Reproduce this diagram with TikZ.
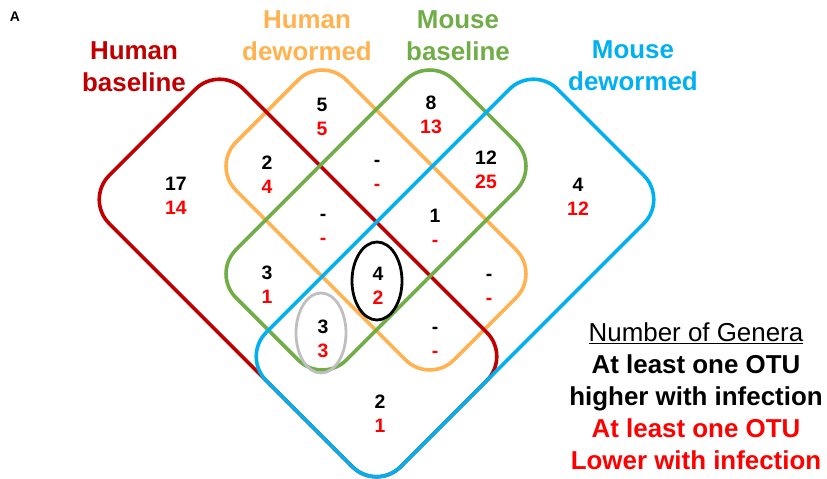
\documentclass[tikz,border=0pt]{standalone}
\usepackage{fontspec}
\setmainfont{Liberation Sans}
\usepackage{tikz}
\usetikzlibrary{shapes.geometric}

\definecolor{hbase}{HTML}{C00000}
\definecolor{hdew}{HTML}{FFB24F}
\definecolor{mbase}{HTML}{70AD47}
\definecolor{mdew}{HTML}{00B0F0}
\definecolor{numred}{HTML}{FF0000}
\definecolor{ringgray}{HTML}{BFBFBF}

\newcommand{\genera}[2]{#1\vphantom{0}\\\textcolor{numred}{#2\vphantom{0}}}

\begin{document}
\begin{tikzpicture}[x=1bp,y=-1bp,
  venn/.style={draw,line width=3.6bp,rounded corners=34bp,rotate=45,inner sep=0pt},
  lab/.style={align=center,font=\fontsize{26}{32}\selectfont\bfseries},
  cnt/.style={align=center,font=\fontsize{19.5}{24}\selectfont\bfseries},
  ring/.style={draw,ellipse,line width=2.8bp,inner sep=0pt,minimum width=50bp}]
\useasboundingbox (0,0) rectangle (827,479);
%\draw[help lines,step=50] (0,0) grid (827,479);

% the four sets
\node[venn,hdew,minimum width=156bp,minimum height=308bp] (hd) at (376,220) {};
\node[venn,hbase,minimum width=190bp,minimum height=412bp] (hb) at (298,278) {};
\node[venn,mbase,minimum width=308bp,minimum height=156bp] (mb) at (376,220) {};
\node[venn,mdew,minimum width=412bp,minimum height=190bp] (md) at (455,278) {};

\node[ring,black,minimum height=78bp] (all4) at (377,281) {};
\node[ring,ringgray,minimum height=80bp] (hbmbmd) at (321,333) {};

% set names
\node[font=\fontsize{14}{16}\selectfont\bfseries] (panel) at (15,17) {A};
\node[lab,hbase] (hbname) at (134,67) {Human\\baseline};
\node[lab,hdew] (hdname) at (307,36) {Human\\dewormed};
\node[lab,mbase] (mbname) at (458,36) {Mouse\\baseline};
\node[lab,mdew] (mdname) at (633,66) {Mouse\\dewormed};

% counts
\node[cnt] (c1) at (176,196) {\genera{17}{14}};
\node[cnt] (c2) at (322,117) {\genera{5}{5}};
\node[cnt] (c3) at (431,115) {\genera{8}{13}};
\node[cnt] (c4) at (578,197) {\genera{4}{12}};
\node[cnt] (c5) at (267,175) {\genera{2}{4}};
\node[cnt] (c6) at (377,172) {\genera{-}{-}};
\node[cnt] (c7) at (486,170) {\genera{12}{25}};
\node[cnt] (c8) at (323,226) {\genera{-}{-}};
\node[cnt] (c9) at (435,228) {\genera{1}{-}};
\node[cnt] (c10) at (267,285) {\genera{3}{1}};
\node[cnt] (c11) at (378,286) {\genera{4}{2}};
\node[cnt] (c12) at (489,286) {\genera{-}{-}};
\node[cnt] (c13) at (323,339) {\genera{3}{3}};
\node[cnt] (c14) at (435,339) {\genera{-}{-}};
\node[cnt] (c15) at (380,414) {\genera{2}{1}};

% key
\node[lab] (key) at (696,396) {{\mdseries\underline{Number of Genera}}\\At least one OTU\\higher with infection\\\textcolor{numred}{At least one OTU}\\\textcolor{numred}{Lower with infection}};

\end{tikzpicture}
\end{document}
